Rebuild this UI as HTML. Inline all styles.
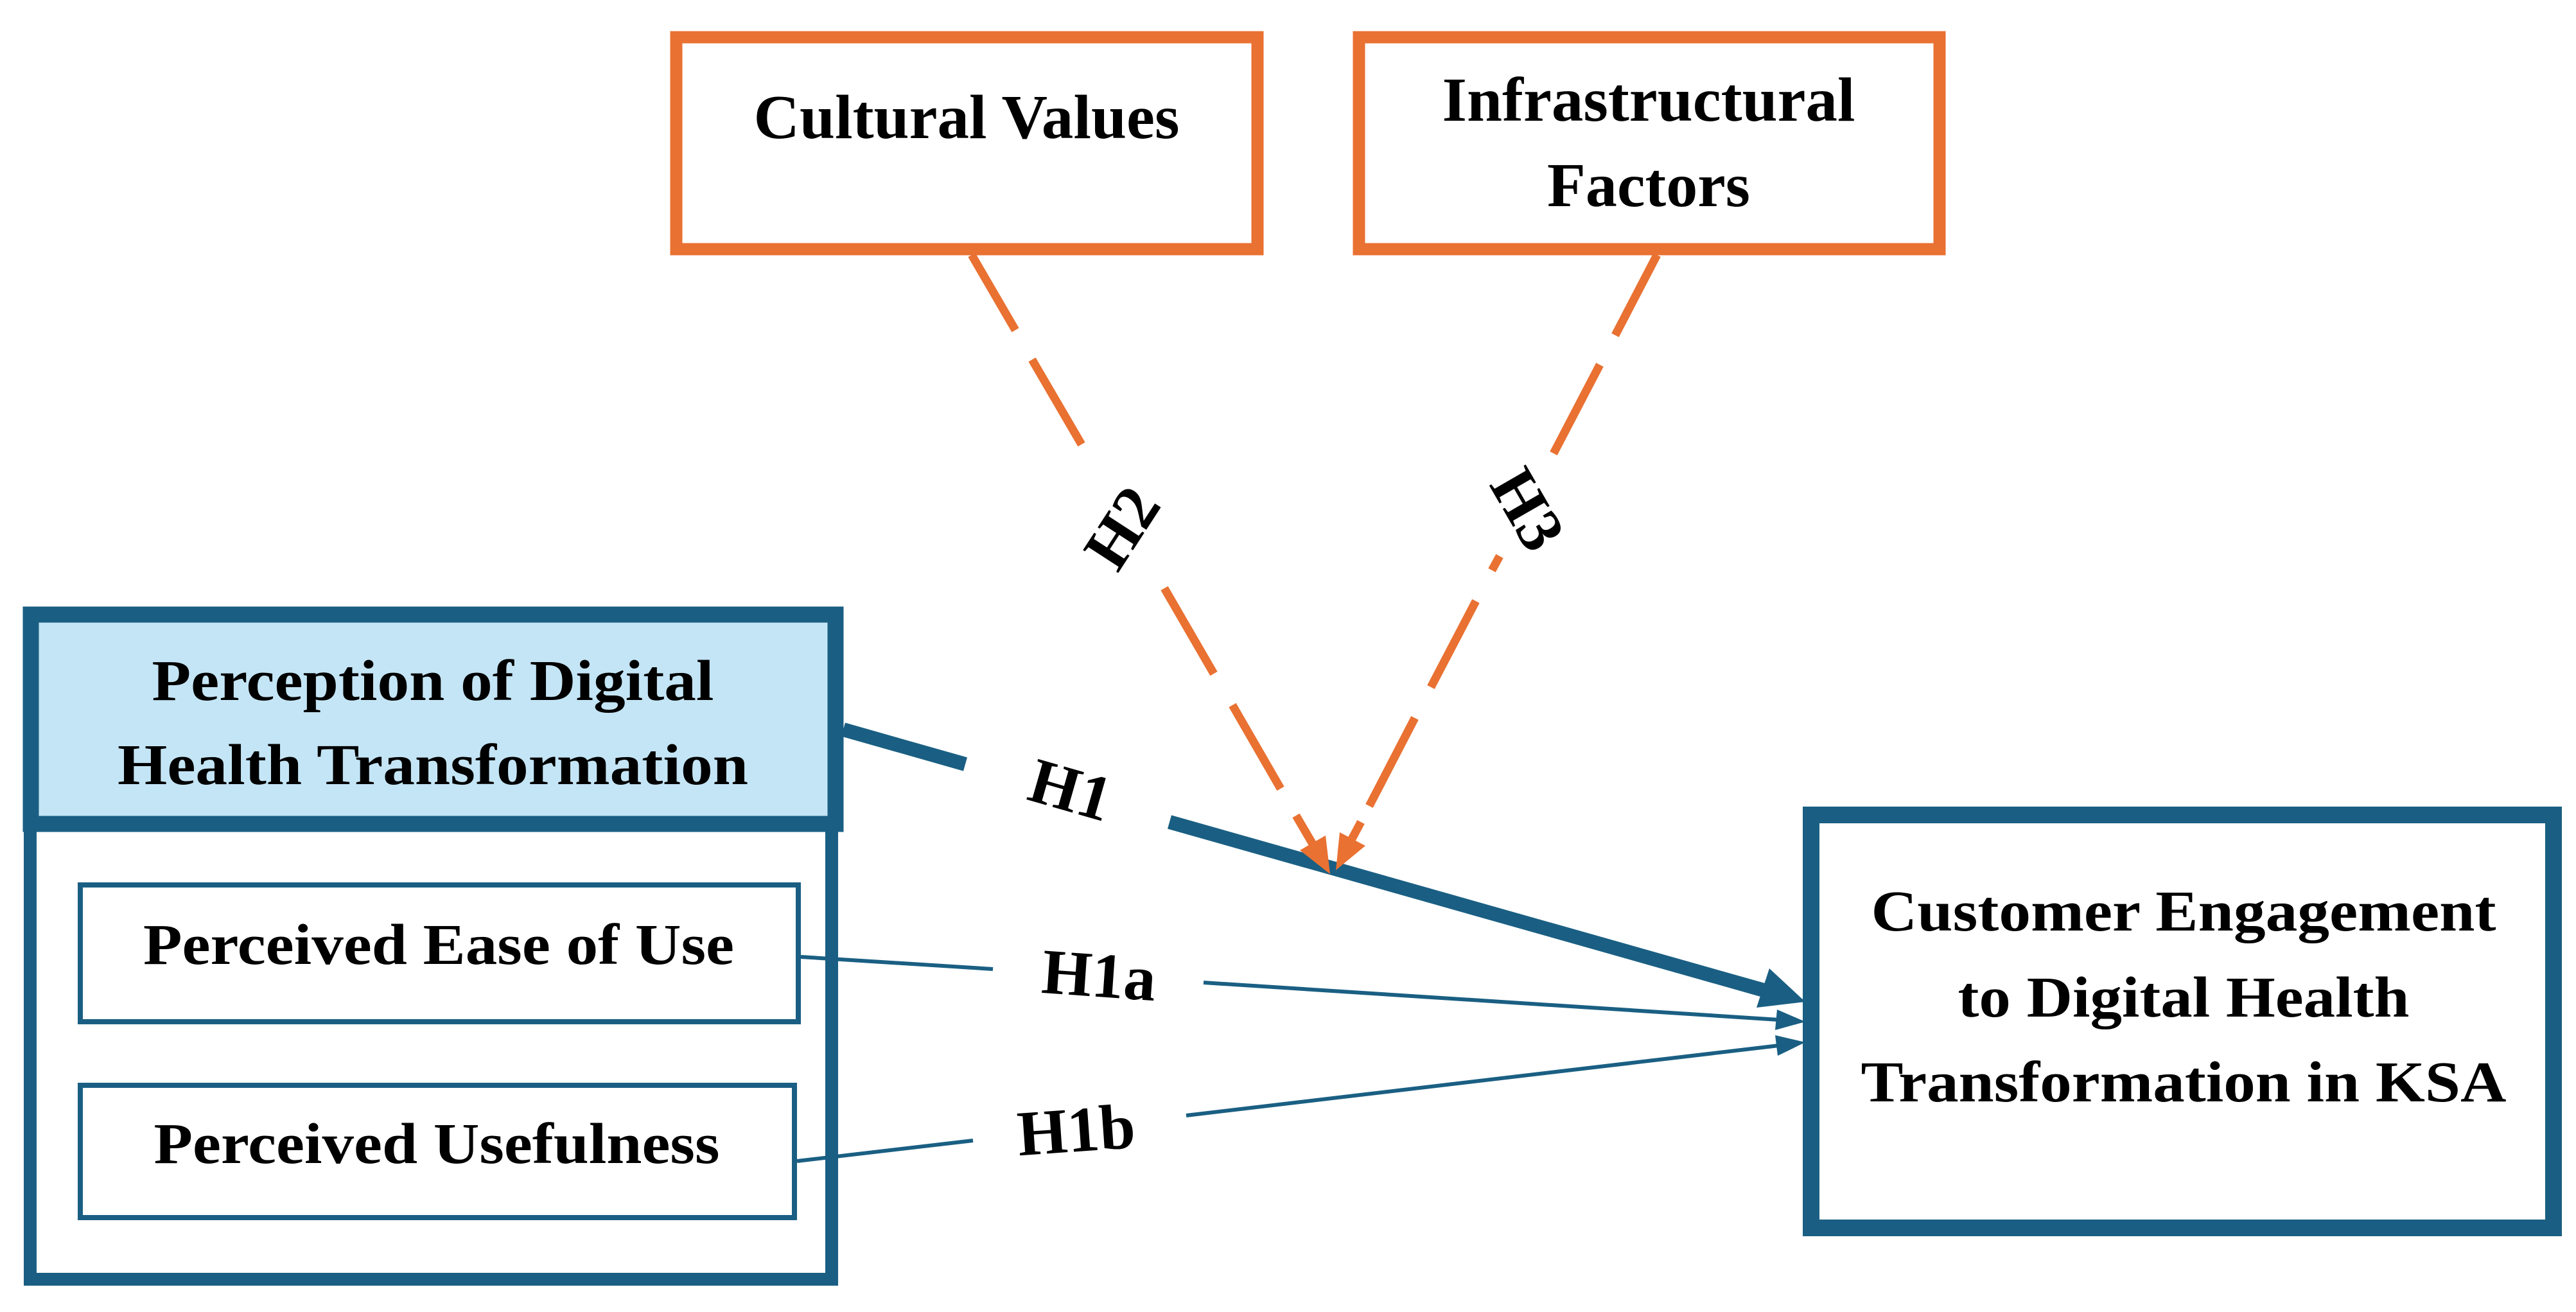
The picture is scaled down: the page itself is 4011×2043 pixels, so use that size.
<!DOCTYPE html>
<html><head><meta charset="utf-8"><style>
html,body{margin:0;padding:0;background:#fff;}
svg{display:block;}
text{font-family:"Liberation Serif","Times New Roman",serif;font-weight:bold;fill:#000;}
</style></head><body>
<svg width="4011" height="2043" viewBox="0 0 4011 2043" xmlns="http://www.w3.org/2000/svg">
<rect width="4011" height="2043" fill="#fff"/>
<!-- Orange boxes -->
<rect x="1053" y="58" width="905" height="330" fill="#fff" stroke="#E97132" stroke-width="19"/>
<rect x="2116" y="58" width="904" height="330" fill="#fff" stroke="#E97132" stroke-width="19"/>
<text x="1505" y="215" font-size="98" text-anchor="middle" textLength="663" lengthAdjust="spacingAndGlyphs">Cultural Values</text>
<text x="2567" y="188" font-size="98" text-anchor="middle" textLength="643" lengthAdjust="spacingAndGlyphs">Infrastructural</text>
<text x="2567" y="321" font-size="98" text-anchor="middle" textLength="316" lengthAdjust="spacingAndGlyphs">Factors</text>

<!-- Left container -->
<rect x="47" y="1280" width="1248" height="712" fill="#fff" stroke="#1A5F83" stroke-width="20"/>
<rect x="48" y="957" width="1253" height="326" fill="#C4E5F5" stroke="#1A5F83" stroke-width="25"/>
<text x="674" y="1090" font-size="90" text-anchor="middle" textLength="875" lengthAdjust="spacingAndGlyphs">Perception of Digital</text>
<text x="674" y="1221" font-size="90" text-anchor="middle" textLength="982" lengthAdjust="spacingAndGlyphs">Health Transformation</text>
<rect x="125" y="1378" width="1118" height="213" fill="#fff" stroke="#1A5F83" stroke-width="8"/>
<text x="683" y="1501" font-size="90" text-anchor="middle" textLength="920" lengthAdjust="spacingAndGlyphs">Perceived Ease of Use</text>
<rect x="125" y="1690" width="1112" height="206" fill="#fff" stroke="#1A5F83" stroke-width="8"/>
<text x="680" y="1811" font-size="90" text-anchor="middle" textLength="881" lengthAdjust="spacingAndGlyphs">Perceived Usefulness</text>

<!-- Right box -->
<rect x="2820" y="1269" width="1156" height="643" fill="#fff" stroke="#1A5F83" stroke-width="26"/>
<text x="3400" y="1449" font-size="90" text-anchor="middle" textLength="973" lengthAdjust="spacingAndGlyphs">Customer Engagement</text>
<text x="3400" y="1583" font-size="90" text-anchor="middle" textLength="703" lengthAdjust="spacingAndGlyphs">to Digital Health</text>
<text x="3400" y="1715" font-size="90" text-anchor="middle" textLength="1005" lengthAdjust="spacingAndGlyphs">Transformation in KSA</text>

<!-- Blue connectors -->
<g stroke="#1A5F83" fill="none" stroke-linecap="butt">
<line x1="1313" y1="1136" x2="1503" y2="1190" stroke-width="22"/>
<line x1="1821" y1="1280" x2="2750" y2="1543" stroke-width="22"/>
<line x1="1247" y1="1490" x2="1546" y2="1509" stroke-width="6"/>
<line x1="1874" y1="1530" x2="2770" y2="1588" stroke-width="6"/>
<line x1="1241" y1="1808" x2="1515" y2="1776" stroke-width="6"/>
<line x1="1847" y1="1737" x2="2770" y2="1628" stroke-width="6"/>
</g>
<g fill="#1A5F83">
<polygon points="2811,1560 2735,1569 2755,1508"/>
<polygon points="2811,1591 2764,1604 2767,1572"/>
<polygon points="2811,1623 2768,1644 2764,1612"/>
</g>
<text font-size="100" text-anchor="middle" transform="translate(1658,1262) rotate(16)">H1</text>
<text font-size="100" text-anchor="middle" transform="translate(1709,1552) rotate(4)">H1a</text>
<text font-size="100" text-anchor="middle" transform="translate(1678,1793) rotate(-4)">H1b</text>

<!-- Orange dashed connectors -->
<g stroke="#E97132" stroke-width="13" fill="none">
<line x1="1513" y1="397" x2="1581" y2="514"/>
<line x1="1607" y1="560" x2="1684" y2="692"/>
<line x1="1813" y1="916" x2="1890" y2="1049"/>
<line x1="1919" y1="1098" x2="1994" y2="1228"/>
<line x1="2018" y1="1270" x2="2045" y2="1316"/>
<line x1="2580" y1="397" x2="2515" y2="522"/>
<line x1="2491" y1="568" x2="2419" y2="706"/>
<line x1="2335" y1="866" x2="2323" y2="888"/>
<line x1="2298" y1="936" x2="2228" y2="1070"/>
<line x1="2203" y1="1118" x2="2132" y2="1255"/>
<line x1="2119" y1="1280" x2="2102" y2="1312"/>
</g>
<g fill="#E97132">
<polygon points="2071,1361 2024,1324 2064,1301"/>
<polygon points="2080,1355 2086,1296 2126,1317"/>
</g>
<text font-size="100" text-anchor="middle" transform="translate(1775,840) rotate(-57)">H2</text>
<text font-size="100" text-anchor="middle" transform="translate(2350,810) rotate(60)">H3</text>
</svg>
</body></html>
